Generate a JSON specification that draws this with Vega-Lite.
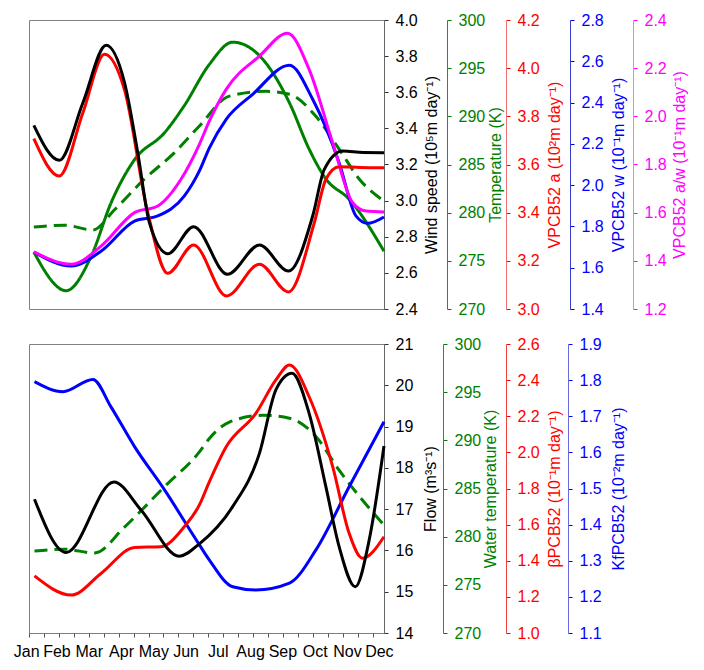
{
  "$schema": "https://vega.github.io/schema/vega-lite/v6.json",
  "padding": {"left": 12, "top": 11, "right": 5, "bottom": 5},
  "spacing": 17,
  "config": {
    "view": {"stroke": "#808080", "strokeWidth": 1},
    "axis": {"labelFont": "Liberation Sans", "titleFont": "Liberation Sans", "labelFontSize": 16, "titleFontSize": 16, "titleFontWeight": "normal", "grid": false, "tickSize": 4, "labelPadding": 7, "domainWidth": 1, "tickWidth": 1, "titleBaseline": "top"},
    "line": {"strokeWidth": 3, "interpolate": "monotone"}
  },
  "datasets": {
    "top": [
      {"s": "wind", "m": 1.29, "v": 3.417}, {"s": "wind", "m": 2.08, "v": 3.223}, {"s": "wind", "m": 2.81, "v": 3.542}, {"s": "wind", "m": 3.53, "v": 3.86}, {"s": "wind", "m": 4.10, "v": 3.653}, {"s": "wind", "m": 4.51, "v": 3.265}, {"s": "wind", "m": 4.87, "v": 2.878}, {"s": "wind", "m": 5.44, "v": 2.706}, {"s": "wind", "m": 6.24, "v": 2.856}, {"s": "wind", "m": 7.29, "v": 2.592}, {"s": "wind", "m": 8.28, "v": 2.754}, {"s": "wind", "m": 9.18, "v": 2.61}, {"s": "wind", "m": 9.93, "v": 2.915}, {"s": "wind", "m": 10.29, "v": 3.173}, {"s": "wind", "m": 10.86, "v": 3.275}, {"s": "wind", "m": 11.5, "v": 3.266}, {"s": "wind", "m": 12.14, "v": 3.265},
      {"s": "va", "m": 1.29, "v": 3.707}, {"s": "va", "m": 2.08, "v": 3.552}, {"s": "va", "m": 2.81, "v": 3.815}, {"s": "va", "m": 3.48, "v": 4.058}, {"s": "va", "m": 4.10, "v": 3.91}, {"s": "va", "m": 4.82, "v": 3.4}, {"s": "va", "m": 5.44, "v": 3.148}, {"s": "va", "m": 6.24, "v": 3.266}, {"s": "va", "m": 7.26, "v": 3.054}, {"s": "va", "m": 8.28, "v": 3.186}, {"s": "va", "m": 9.18, "v": 3.071}, {"s": "va", "m": 9.98, "v": 3.358}, {"s": "va", "m": 10.34, "v": 3.539}, {"s": "va", "m": 10.75, "v": 3.591}, {"s": "va", "m": 11.4, "v": 3.588}, {"s": "va", "m": 12.14, "v": 3.587},
      {"s": "temp", "m": 1.29, "v": 275.9}, {"s": "temp", "m": 2.29, "v": 271.9}, {"s": "temp", "m": 3.07, "v": 275.5}, {"s": "temp", "m": 3.68, "v": 281.0}, {"s": "temp", "m": 4.41, "v": 285.5}, {"s": "temp", "m": 5.34, "v": 288.3}, {"s": "temp", "m": 5.95, "v": 291.1}, {"s": "temp", "m": 6.73, "v": 295.4}, {"s": "temp", "m": 7.45, "v": 297.7}, {"s": "temp", "m": 8.28, "v": 296.3}, {"s": "temp", "m": 9.21, "v": 291.4}, {"s": "temp", "m": 9.82, "v": 286.6}, {"s": "temp", "m": 10.34, "v": 283.5}, {"s": "temp", "m": 11.06, "v": 281.4}, {"s": "temp", "m": 12.14, "v": 276.0},
      {"s": "tempw", "m": 1.29, "v": 278.5}, {"s": "tempw", "m": 2.24, "v": 278.7}, {"s": "tempw", "m": 3.12, "v": 278.2}, {"s": "tempw", "m": 3.79, "v": 280.3}, {"s": "tempw", "m": 4.72, "v": 283.5}, {"s": "tempw", "m": 5.64, "v": 286.2}, {"s": "tempw", "m": 6.42, "v": 289.0}, {"s": "tempw", "m": 7.35, "v": 292.1}, {"s": "tempw", "m": 8.48, "v": 292.6}, {"s": "tempw", "m": 9.21, "v": 292.3}, {"s": "tempw", "m": 10.03, "v": 290.0}, {"s": "tempw", "m": 10.75, "v": 286.6}, {"s": "tempw", "m": 11.37, "v": 283.5}, {"s": "tempw", "m": 12.14, "v": 281.2},
      {"s": "vw", "m": 1.29, "v": 1.676}, {"s": "vw", "m": 2.45, "v": 1.608}, {"s": "vw", "m": 3.38, "v": 1.681}, {"s": "vw", "m": 4.41, "v": 1.826}, {"s": "vw", "m": 5.13, "v": 1.851}, {"s": "vw", "m": 5.95, "v": 1.947}, {"s": "vw", "m": 6.42, "v": 2.069}, {"s": "vw", "m": 6.73, "v": 2.181}, {"s": "vw", "m": 7.25, "v": 2.319}, {"s": "vw", "m": 8.07, "v": 2.44}, {"s": "vw", "m": 9.21, "v": 2.581}, {"s": "vw", "m": 9.93, "v": 2.416}, {"s": "vw", "m": 10.75, "v": 2.109}, {"s": "vw", "m": 11.27, "v": 1.851}, {"s": "vw", "m": 11.63, "v": 1.815}, {"s": "vw", "m": 12.14, "v": 1.846},
      {"s": "vaw", "m": 1.29, "v": 1.437}, {"s": "vaw", "m": 2.45, "v": 1.386}, {"s": "vaw", "m": 3.38, "v": 1.462}, {"s": "vaw", "m": 4.41, "v": 1.6}, {"s": "vaw", "m": 5.13, "v": 1.628}, {"s": "vaw", "m": 5.85, "v": 1.739}, {"s": "vaw", "m": 6.42, "v": 1.884}, {"s": "vaw", "m": 6.73, "v": 1.981}, {"s": "vaw", "m": 7.25, "v": 2.112}, {"s": "vaw", "m": 8.28, "v": 2.25}, {"s": "vaw", "m": 9.15, "v": 2.345}, {"s": "vaw", "m": 9.82, "v": 2.195}, {"s": "vaw", "m": 10.55, "v": 1.89}, {"s": "vaw", "m": 11.17, "v": 1.641}, {"s": "vaw", "m": 11.58, "v": 1.607}, {"s": "vaw", "m": 12.14, "v": 1.603}
    ],
    "bottom": [
      {"s": "flow", "m": 1.31, "v": 17.24}, {"s": "flow", "m": 2.29, "v": 15.95}, {"s": "flow", "m": 3.77, "v": 17.66}, {"s": "flow", "m": 4.61, "v": 16.98}, {"s": "flow", "m": 5.80, "v": 15.86}, {"s": "flow", "m": 6.42, "v": 16.16}, {"s": "flow", "m": 7.45, "v": 17.06}, {"s": "flow", "m": 8.28, "v": 18.35}, {"s": "flow", "m": 8.79, "v": 19.89}, {"s": "flow", "m": 9.29, "v": 20.29}, {"s": "flow", "m": 9.82, "v": 19.32}, {"s": "flow", "m": 10.34, "v": 17.54}, {"s": "flow", "m": 10.75, "v": 16.09}, {"s": "flow", "m": 11.25, "v": 15.12}, {"s": "flow", "m": 11.68, "v": 16.25}, {"s": "flow", "m": 12.14, "v": 18.53},
      {"s": "beta", "m": 1.31, "v": 1.316}, {"s": "beta", "m": 2.45, "v": 1.21}, {"s": "beta", "m": 3.38, "v": 1.331}, {"s": "beta", "m": 4.41, "v": 1.474}, {"s": "beta", "m": 5.23, "v": 1.478}, {"s": "beta", "m": 5.95, "v": 1.588}, {"s": "beta", "m": 6.42, "v": 1.709}, {"s": "beta", "m": 6.73, "v": 1.838}, {"s": "beta", "m": 7.25, "v": 2.031}, {"s": "beta", "m": 8.17, "v": 2.216}, {"s": "beta", "m": 8.79, "v": 2.401}, {"s": "beta", "m": 9.21, "v": 2.484}, {"s": "beta", "m": 9.82, "v": 2.308}, {"s": "beta", "m": 10.55, "v": 1.921}, {"s": "beta", "m": 11.06, "v": 1.552}, {"s": "beta", "m": 11.47, "v": 1.414}, {"s": "beta", "m": 12.14, "v": 1.533},
      {"s": "kf", "m": 1.31, "v": 1.796}, {"s": "kf", "m": 2.19, "v": 1.768}, {"s": "kf", "m": 3.12, "v": 1.802}, {"s": "kf", "m": 3.68, "v": 1.726}, {"s": "kf", "m": 4.41, "v": 1.616}, {"s": "kf", "m": 5.34, "v": 1.496}, {"s": "kf", "m": 6.42, "v": 1.344}, {"s": "kf", "m": 6.73, "v": 1.302}, {"s": "kf", "m": 7.45, "v": 1.228}, {"s": "kf", "m": 8.17, "v": 1.219}, {"s": "kf", "m": 9.21, "v": 1.238}, {"s": "kf", "m": 10.03, "v": 1.33}, {"s": "kf", "m": 11.06, "v": 1.505}, {"s": "kf", "m": 12.14, "v": 1.685},
      {"s": "wtemp", "m": 1.31, "v": 278.5}, {"s": "wtemp", "m": 2.24, "v": 278.7}, {"s": "wtemp", "m": 3.17, "v": 278.3}, {"s": "wtemp", "m": 4.10, "v": 281.0}, {"s": "wtemp", "m": 5.34, "v": 285.2}, {"s": "wtemp", "m": 6.42, "v": 288.8}, {"s": "wtemp", "m": 6.73, "v": 290.2}, {"s": "wtemp", "m": 7.35, "v": 291.9}, {"s": "wtemp", "m": 8.38, "v": 292.6}, {"s": "wtemp", "m": 9.21, "v": 292.3}, {"s": "wtemp", "m": 10.03, "v": 290.4}, {"s": "wtemp", "m": 10.75, "v": 286.9}, {"s": "wtemp", "m": 11.47, "v": 283.8}, {"s": "wtemp", "m": 12.14, "v": 281.2}
    ]
  },
  "vconcat": [
    {
      "width": 355, "height": 289,
      "data": {"name": "top"},
      "resolve": {"scale": {"y": "independent"}, "axis": {"y": "independent"}},
      "layer": [
        {
          "transform": [{"filter": "datum.s === 'temp' || datum.s === 'tempw'"}],
          "mark": {"type": "line", "color": "#008000"},
          "encoding": {
            "x": {"field": "m", "type": "quantitative", "scale": {"domain": [1.14, 12.14], "nice": false, "zero": false},
                  "axis": {"orient": "bottom", "title": null, "labels": false, "values": [1.14, 1.603, 2.066, 2.529, 2.992, 3.455, 3.918, 4.381, 4.844, 5.307, 5.77, 6.233, 6.696, 7.159, 7.622, 8.085, 8.548, 9.011, 9.474, 9.937, 10.4, 10.863, 11.326, 11.789], "domain": false, "tickColor": "#555"}},
            "y": {"field": "v", "type": "quantitative", "scale": {"domain": [270, 300], "nice": false, "zero": false},
                  "axis": {"orient": "right", "offset": 63, "values": [270, 275, 280, 285, 290, 295, 300], "title": "Temperature (K)", "titleAngle": 270, "titlePadding": 3, "labelColor": "#008000", "titleColor": "#008000", "domainColor": "#2e8b2e", "tickColor": "#008000"}},
            "strokeDash": {"field": "s", "type": "nominal", "scale": {"domain": ["temp", "tempw"], "range": [[1, 0], [13, 7]]}, "legend": null}
          }
        },
        {
          "transform": [{"filter": "datum.s === 'vw'"}],
          "mark": {"type": "line", "color": "#0000ff"},
          "encoding": {
            "x": {"field": "m", "type": "quantitative", "scale": {"domain": [1.14, 12.14], "nice": false, "zero": false}, "axis": null},
            "y": {"field": "v", "type": "quantitative", "scale": {"domain": [1.4, 2.8], "nice": false, "zero": false},
                  "axis": {"orient": "right", "offset": 186, "values": [1.4, 1.6, 1.8, 2.0, 2.2, 2.4, 2.6, 2.8], "format": ".1f", "title": "VPCB52 w (10⁻¹m day⁻¹)", "titleAngle": 270, "titlePadding": 7, "labelColor": "#0000ff", "titleColor": "#0000ff", "domainColor": "#3a3ad0", "tickColor": "#0000ff"}}
          }
        },
        {
          "transform": [{"filter": "datum.s === 'vaw'"}],
          "mark": {"type": "line", "color": "#ff00ff"},
          "encoding": {
            "x": {"field": "m", "type": "quantitative", "scale": {"domain": [1.14, 12.14], "nice": false, "zero": false}, "axis": null},
            "y": {"field": "v", "type": "quantitative", "scale": {"domain": [1.2, 2.4], "nice": false, "zero": false},
                  "axis": {"orient": "right", "offset": 249, "values": [1.2, 1.4, 1.6, 1.8, 2.0, 2.2, 2.4], "format": ".1f", "title": "VPCB52 a/w (10⁻¹m day⁻¹)", "titleAngle": 270, "titlePadding": 5, "labelColor": "#ff00ff", "titleColor": "#ff00ff", "domainColor": "#ff70ff", "tickColor": "#ff00ff"}}
          }
        },
        {
          "transform": [{"filter": "datum.s === 'va'"}],
          "mark": {"type": "line", "color": "#ff0000"},
          "encoding": {
            "x": {"field": "m", "type": "quantitative", "scale": {"domain": [1.14, 12.14], "nice": false, "zero": false}, "axis": null},
            "y": {"field": "v", "type": "quantitative", "scale": {"domain": [3.0, 4.2], "nice": false, "zero": false},
                  "axis": {"orient": "right", "offset": 122, "values": [3.0, 3.2, 3.4, 3.6, 3.8, 4.0, 4.2], "format": ".1f", "title": "VPCB52 a (10²m day⁻¹)", "titleAngle": 270, "titlePadding": 7, "labelColor": "#ff0000", "titleColor": "#ff0000", "domainColor": "#f07070", "tickColor": "#ff0000"}}
          }
        },
        {
          "transform": [{"filter": "datum.s === 'wind'"}],
          "mark": {"type": "line", "color": "#000000"},
          "encoding": {
            "x": {"field": "m", "type": "quantitative", "scale": {"domain": [1.14, 12.14], "nice": false, "zero": false}, "axis": null},
            "y": {"field": "v", "type": "quantitative", "scale": {"domain": [2.4, 4.0], "nice": false, "zero": false},
                  "axis": {"orient": "right", "offset": 0, "values": [2.4, 2.6, 2.8, 3.0, 3.2, 3.4, 3.6, 3.8, 4.0], "format": ".1f", "title": "Wind speed (10⁵m day⁻¹)", "titleAngle": 270, "titlePadding": 6, "labelColor": "#000000", "titleColor": "#000000", "domainColor": "#666666", "tickColor": "#333333"}}
          }
        }
      ]
    },
    {
      "width": 355, "height": 289,
      "data": {"name": "bottom"},
      "resolve": {"scale": {"y": "independent"}, "axis": {"y": "independent", "x": "independent"}},
      "layer": [
        {
          "transform": [{"filter": "datum.s === 'wtemp'"}],
          "mark": {"type": "line", "color": "#008000", "strokeDash": [13, 7]},
          "encoding": {
            "x": {"field": "m", "type": "quantitative", "scale": {"domain": [1.14, 12.14], "nice": false, "zero": false},
                  "axis": {"orient": "bottom", "title": null, "labels": false, "values": [1.14, 1.603, 2.066, 2.529, 2.992, 3.455, 3.918, 4.381, 4.844, 5.307, 5.77, 6.233, 6.696, 7.159, 7.622, 8.085, 8.548, 9.011, 9.474, 9.937, 10.4, 10.863, 11.326, 11.789], "domain": false, "tickColor": "#555"}},
            "y": {"field": "v", "type": "quantitative", "scale": {"domain": [270, 300], "nice": false, "zero": false},
                  "axis": {"orient": "right", "offset": 59, "values": [270, 275, 280, 285, 290, 295, 300], "title": "Water temperature (K)", "titleAngle": 270, "titlePadding": 2, "labelColor": "#008000", "titleColor": "#008000", "domainColor": "#2e8b2e", "tickColor": "#008000"}}
          }
        },
        {
          "transform": [{"filter": "datum.s === 'kf'"}],
          "mark": {"type": "line", "color": "#0000ff"},
          "encoding": {
            "x": {"field": "m", "type": "quantitative", "scale": {"domain": [1.14, 12.14], "nice": false, "zero": false}, "axis": null},
            "y": {"field": "v", "type": "quantitative", "scale": {"domain": [1.1, 1.9], "nice": false, "zero": false},
                  "axis": {"orient": "right", "offset": 184, "values": [1.1, 1.2, 1.3, 1.4, 1.5, 1.6, 1.7, 1.8, 1.9], "format": ".1f", "title": "KfPCB52 (10⁻²m day⁻¹)", "titleAngle": 270, "titlePadding": 9, "labelColor": "#0000ff", "titleColor": "#0000ff", "domainColor": "#6a6ae0", "tickColor": "#0000ff"}}
          }
        },
        {
          "transform": [{"filter": "datum.s === 'beta'"}],
          "mark": {"type": "line", "color": "#ff0000"},
          "encoding": {
            "x": {"field": "m", "type": "quantitative", "scale": {"domain": [1.14, 12.14], "nice": false, "zero": false}, "axis": null},
            "y": {"field": "v", "type": "quantitative", "scale": {"domain": [1.0, 2.6], "nice": false, "zero": false},
                  "axis": {"orient": "right", "offset": 122, "values": [1.0, 1.2, 1.4, 1.6, 1.8, 2.0, 2.2, 2.4, 2.6], "format": ".1f", "title": "βPCB52 (10⁻¹m day⁻¹)", "titleAngle": 270, "titlePadding": 7, "labelColor": "#ff0000", "titleColor": "#ff0000", "domainColor": "#f04040", "tickColor": "#ff0000"}}
          }
        },
        {
          "transform": [{"filter": "datum.s === 'flow'"}],
          "mark": {"type": "line", "color": "#000000"},
          "encoding": {
            "x": {"field": "m", "type": "quantitative", "scale": {"domain": [1.14, 12.14], "nice": false, "zero": false},
                  "axis": {"orient": "bottom", "title": null, "ticks": false, "domain": false, "labelPadding": 10, "labelOffset": -4.8, "labelAlign": "center", "labelColor": "#000000", "values": [1.2, 2.14, 3.14, 4.14, 5.14, 6.14, 7.14, 8.14, 9.14, 10.14, 11.14, 12.13], "labelExpr": "['Jan','Feb','Mar','Apr','May','Jun','Jul','Aug','Sep','Oct','Nov','Dec'][round(datum.value - 1.14)]", "labelOverlap": false, "labelBound": false, "labelFlush": false}},
            "y": {"field": "v", "type": "quantitative", "scale": {"domain": [14, 21], "nice": false, "zero": false},
                  "axis": {"orient": "right", "offset": 0, "values": [14, 15, 16, 17, 18, 19, 20, 21], "title": "Flow (m³s⁻¹)", "titleAngle": 270, "titlePadding": 10, "labelColor": "#000000", "titleColor": "#000000", "domainColor": "#666666", "tickColor": "#333333"}}
          }
        }
      ]
    }
  ]
}
